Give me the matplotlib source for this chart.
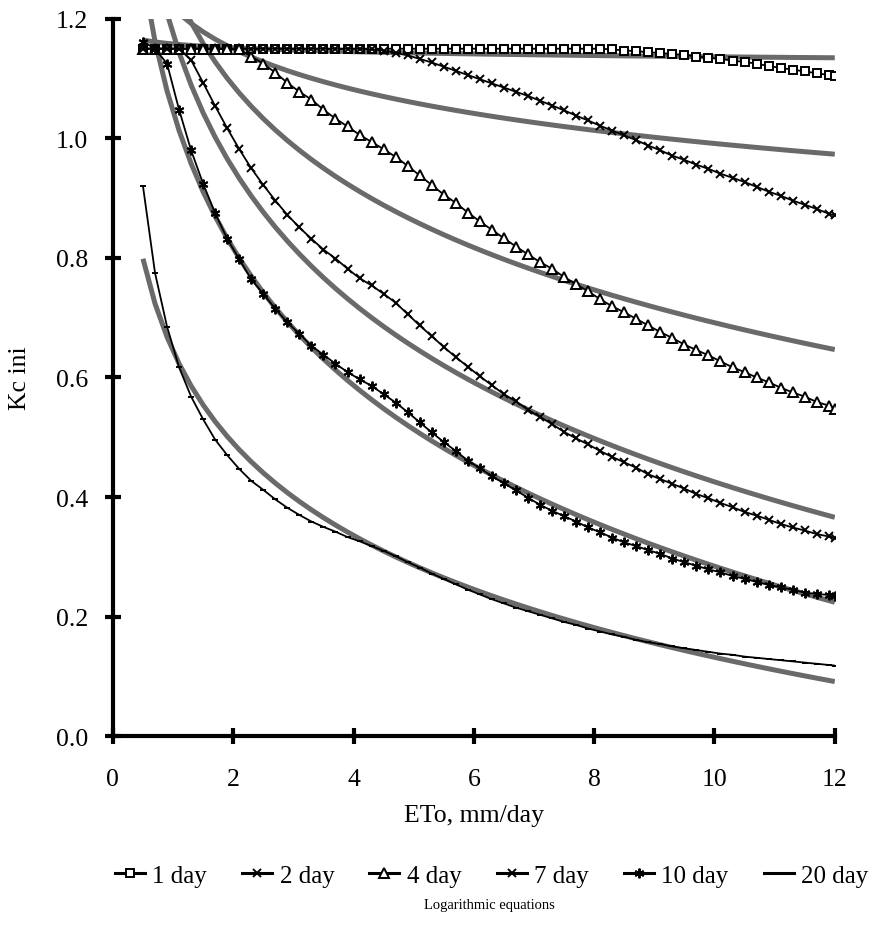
import numpy as np
import matplotlib.pyplot as plt

# ETo grid (mm/day): 0.5, 0.7, ... 11.9 and then 12.0
eto = [0.5, 0.7, 0.9, 1.1, 1.3, 1.5, 1.7, 1.9, 2.1, 2.3,
       2.5, 2.7, 2.9, 3.1, 3.3, 3.5, 3.7, 3.9, 4.1, 4.3,
       4.5, 4.7, 4.9, 5.1, 5.3, 5.5, 5.7, 5.9, 6.1, 6.3,
       6.5, 6.7, 6.9, 7.1, 7.3, 7.5, 7.7, 7.9, 8.1, 8.3,
       8.5, 8.7, 8.9, 9.1, 9.3, 9.5, 9.7, 9.9, 10.1, 10.3,
       10.5, 10.7, 10.9, 11.1, 11.3, 11.5, 11.7, 11.9, 12.0]

kc_1day = [1.150, 1.150, 1.150, 1.150, 1.150, 1.150, 1.150, 1.150, 1.150, 1.150,
           1.150, 1.150, 1.150, 1.150, 1.150, 1.150, 1.150, 1.150, 1.150, 1.150,
           1.150, 1.150, 1.150, 1.150, 1.150, 1.150, 1.150, 1.150, 1.150, 1.150,
           1.150, 1.150, 1.150, 1.150, 1.150, 1.150, 1.150, 1.150, 1.150, 1.149,
           1.147, 1.146, 1.144, 1.143, 1.141, 1.140, 1.137, 1.135, 1.133, 1.130,
           1.128, 1.125, 1.121, 1.118, 1.115, 1.112, 1.109, 1.106, 1.104]

kc_2day = [1.150, 1.150, 1.150, 1.150, 1.150, 1.150, 1.150, 1.150, 1.150, 1.150,
           1.150, 1.150, 1.150, 1.150, 1.150, 1.150, 1.150, 1.150, 1.150, 1.149,
           1.147, 1.143, 1.139, 1.133, 1.127, 1.120, 1.113, 1.106, 1.099, 1.092,
           1.085, 1.078, 1.071, 1.063, 1.055, 1.047, 1.038, 1.030, 1.021, 1.013,
           1.005, 0.997, 0.988, 0.980, 0.971, 0.964, 0.956, 0.949, 0.941, 0.934,
           0.927, 0.919, 0.911, 0.904, 0.896, 0.889, 0.882, 0.874, 0.871]

kc_4day = [1.150, 1.150, 1.150, 1.150, 1.150, 1.150, 1.150, 1.150, 1.149, 1.137,
           1.125, 1.110, 1.093, 1.078, 1.065, 1.048, 1.033, 1.020, 1.006, 0.994,
           0.982, 0.969, 0.954, 0.938, 0.922, 0.906, 0.892, 0.876, 0.861, 0.847,
           0.833, 0.819, 0.806, 0.793, 0.782, 0.768, 0.756, 0.744, 0.731, 0.719,
           0.709, 0.698, 0.687, 0.676, 0.666, 0.655, 0.646, 0.637, 0.627, 0.617,
           0.609, 0.600, 0.592, 0.583, 0.575, 0.568, 0.559, 0.553, 0.547]

kc_7day = [1.150, 1.150, 1.150, 1.150, 1.131, 1.093, 1.054, 1.017, 0.982, 0.950,
           0.922, 0.896, 0.872, 0.851, 0.832, 0.814, 0.799, 0.782, 0.766, 0.754,
           0.740, 0.725, 0.706, 0.687, 0.669, 0.651, 0.634, 0.618, 0.602, 0.587,
           0.572, 0.560, 0.546, 0.534, 0.522, 0.509, 0.498, 0.488, 0.477, 0.467,
           0.458, 0.449, 0.438, 0.430, 0.422, 0.414, 0.405, 0.398, 0.390, 0.383,
           0.375, 0.369, 0.362, 0.355, 0.349, 0.344, 0.338, 0.334, 0.332]

kc_10day = [1.162, 1.150, 1.125, 1.048, 0.980, 0.924, 0.875, 0.832, 0.798, 0.764,
            0.740, 0.715, 0.692, 0.673, 0.653, 0.638, 0.623, 0.609, 0.597, 0.586,
            0.572, 0.558, 0.542, 0.525, 0.508, 0.492, 0.477, 0.461, 0.448, 0.435,
            0.423, 0.411, 0.399, 0.387, 0.377, 0.368, 0.359, 0.349, 0.341, 0.332,
            0.324, 0.318, 0.311, 0.305, 0.297, 0.291, 0.285, 0.279, 0.274, 0.268,
            0.263, 0.258, 0.253, 0.249, 0.245, 0.240, 0.238, 0.236, 0.235]

kc_20day = [0.920, 0.775, 0.685, 0.617, 0.568, 0.530, 0.496, 0.470, 0.447, 0.427,
            0.412, 0.396, 0.382, 0.370, 0.359, 0.350, 0.342, 0.333, 0.326, 0.318,
            0.310, 0.301, 0.291, 0.282, 0.272, 0.263, 0.254, 0.245, 0.237, 0.229,
            0.222, 0.215, 0.209, 0.203, 0.197, 0.191, 0.186, 0.180, 0.175, 0.170,
            0.166, 0.161, 0.157, 0.154, 0.150, 0.147, 0.144, 0.141, 0.138, 0.136,
            0.133, 0.131, 0.129, 0.127, 0.125, 0.123, 0.121, 0.119, 0.118]

labels = ['1 day', '2 day', '4 day', '7 day', '10 day', '20 day']
series = [kc_1day, kc_2day, kc_4day, kc_7day, kc_10day, kc_20day]
markers = ['s', 'x', '^', 'x', (6, 2, 0), '_']
msizes = [6, 6, 7, 6, 7, 4]

plt.rcParams['font.family'] = ['Liberation Serif', 'DejaVu Serif']

fig = plt.figure(figsize=(8.89, 9.45), dpi=100)
ax = fig.add_axes([0.127, 0.220, 0.812, 0.759])

x = np.array(eto)

# logarithmic trend lines (y = a ln x + b), like the spreadsheet trendlines
for kc in series:
    a, b = np.polyfit(np.log(x), np.array(kc), 1)
    ax.plot(x, a * np.log(x) + b, color='#6a6a6a', lw=3.6, zorder=2,
            solid_capstyle='butt')

for kc, lab, m, ms in zip(series, labels, markers, msizes):
    ax.plot(x, kc, color='black', lw=1.3, marker=m, markersize=ms,
            markerfacecolor='white', markeredgecolor='black',
            markeredgewidth=1.4, label=lab, zorder=3)

ax.set_xlim(0, 12)
ax.set_ylim(0, 1.2)
ax.set_xticks(np.arange(0, 13, 2))
ax.set_yticks(np.arange(0, 1.21, 0.2))
ax.yaxis.set_major_formatter(plt.FormatStrFormatter('%.1f'))

for s in ['top', 'right']:
    ax.spines[s].set_visible(False)
for s in ['left', 'bottom']:
    ax.spines[s].set_linewidth(3)
ax.tick_params(direction='inout', length=12, width=3, labelsize=18.5)
ax.tick_params(axis='x', pad=17)
ax.tick_params(axis='y', pad=12)

ax.set_xlabel('ETo, mm/day', fontsize=18.5, labelpad=10)
ax.set_ylabel('Kc ini', fontsize=18.5, labelpad=18)

leg = fig.legend(loc='center', bbox_to_anchor=(0.553, 0.072), ncol=6, frameon=False,
                 fontsize=18, handlelength=1.2, handletextpad=0.3, columnspacing=1.4)
for ln in leg.get_lines():
    ln.set_linewidth(2.2)
fig.text(0.551, 0.042, 'Logarithmic equations', ha='center', va='center', fontsize=10.5)

fig.savefig('out.png', dpi=100)
